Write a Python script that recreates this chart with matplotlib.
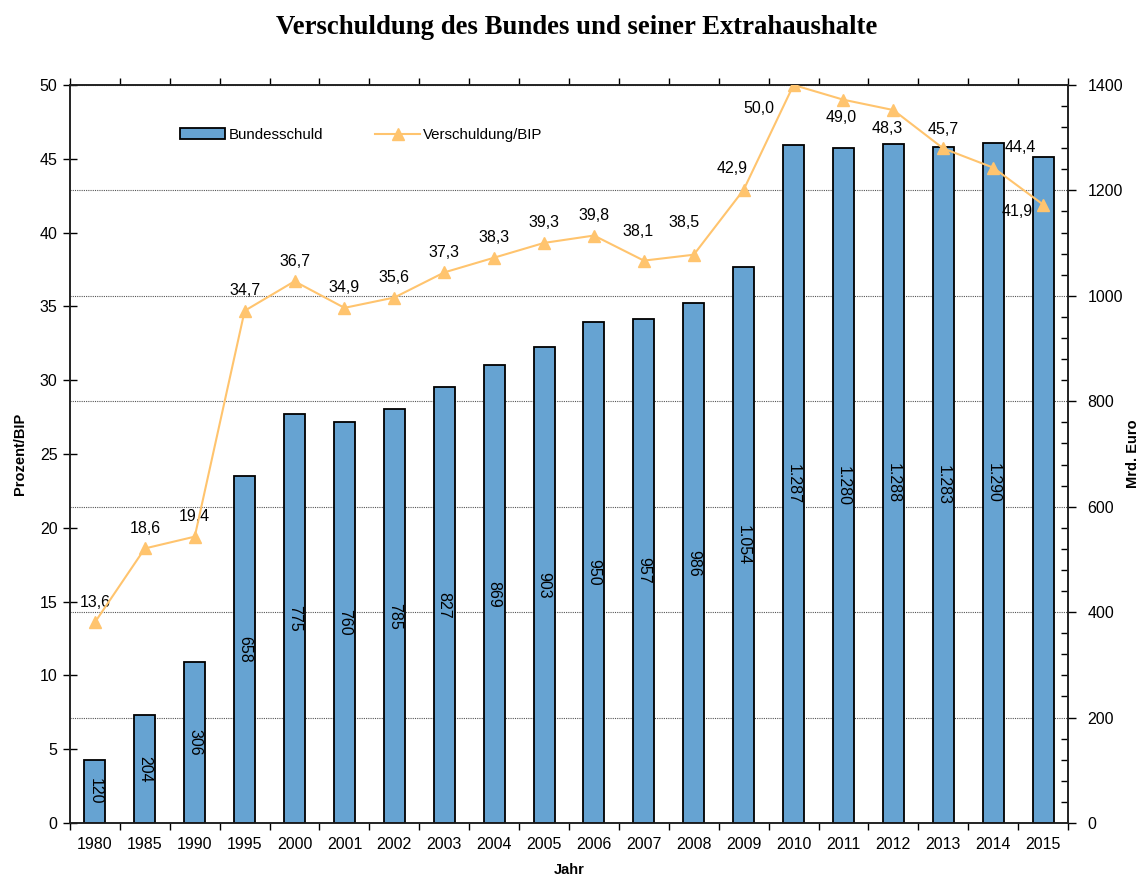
import matplotlib
matplotlib.use("Agg")
import matplotlib.pyplot as plt
import numpy as np
from matplotlib.ticker import MultipleLocator, FixedLocator

plt.rcParams['font.family'] = ['Liberation Sans', 'DejaVu Sans']

# data
jahre = ['1980', '1985', '1990', '1995', '2000', '2001', '2002', '2003', '2004', '2005',
         '2006', '2007', '2008', '2009', '2010', '2011', '2012', '2013', '2014', '2015']
bundesschuld = [120, 204, 306, 658, 775, 760, 785, 827, 869, 903,
                950, 957, 986, 1054, 1287, 1280, 1288, 1283, 1290, 1263]
schuld_bip = [13.6, 18.6, 19.4, 34.7, 36.7, 34.9, 35.6, 37.3, 38.3, 39.3,
              39.8, 38.1, 38.5, 42.9, 50.0, 49.0, 48.3, 45.7, 44.4, 41.9]

# label offsets for the percent values (points)
offs = [(0, 14.4)] * 11 + [(-4.3, 20.9), (-7.2, 23), (-8.6, 15.1), (-25.2, -16.6),
                           (-1.4, -13), (-4.3, -13), (0, 13.7), (19.4, 14.4), (-18.7, -5)]

bar_col = '#66A3D2'
line_col = '#FFC46E'

fig = plt.figure(figsize=(11.38, 8.76), dpi=100)
ax = fig.add_axes([0.0615, 0.0605, 0.877, 0.8425])
ax2 = ax.twinx()
x = np.arange(len(jahre))

# bars (Mrd. Euro, right axis)
ax.set_axisbelow(True)
bars = ax.bar(x, bundesschuld, width=0.42, color=bar_col, edgecolor='black', linewidth=1.3, zorder=3)
labs = [f"{v:,}".replace(',', '.') for v in bundesschuld]
labs[-1] = ''
ax.bar_label(bars, labels=labs, label_type='center', rotation=-90, fontsize=11.5)
ax.set_ylim(0, 1400)
ax.set_xlim(-0.5, len(jahre) - 0.5)
ax.yaxis.tick_right()
ax.yaxis.set_label_position('right')
ax.yaxis.set_major_locator(MultipleLocator(200))
ax.yaxis.set_minor_locator(MultipleLocator(40))
ax.tick_params(axis='y', which='major', direction='out', length=6, labelsize=11.5, width=1, pad=8)
ax.tick_params(axis='y', which='minor', direction='in', length=5, width=1)
ax.set_ylabel('Mrd. Euro', fontsize=10.5, fontweight='bold')
ax.yaxis.set_label_coords(1.058, 0.5)
ax.yaxis.grid(True, which='major', linestyle=(0, (1, 1)), color='#555555', linewidth=0.8, zorder=0)

ax.set_xticks(x)
ax.set_xticklabels(jahre)
ax.xaxis.set_minor_locator(FixedLocator(np.arange(-0.5, len(jahre), 1)))
ax.tick_params(axis='x', which='major', length=0, labelsize=11.5, pad=10)
ax.tick_params(axis='x', which='minor', direction='out', length=5, width=1, top=True)
ax.set_xlabel('Jahr', fontsize=10.5, fontweight='bold', labelpad=8)

# line (Prozent/BIP, left axis)
ax2.yaxis.tick_left()
ax2.yaxis.set_label_position('left')
ln, = ax2.plot(x, schuld_bip, color=line_col, marker='^', markersize=8, linewidth=1.5, zorder=5)
for i, v in enumerate(schuld_bip):
    ax2.annotate(f"{v:.1f}".replace('.', ','), (x[i], v), xytext=offs[i], textcoords='offset points',
                 ha='center', va='center', fontsize=11.5)
ax2.set_ylim(0, 50)
ax2.yaxis.set_major_locator(MultipleLocator(5))
ax2.tick_params(axis='y', which='major', direction='inout', length=10, labelsize=11.5, width=1, pad=4)
ax2.set_ylabel('Prozent/BIP', fontsize=10.5, fontweight='bold', labelpad=9)

for a in (ax, ax2):
    for s in a.spines.values():
        s.set_linewidth(1.2)
        s.set_color('#222222')

leg = ax2.legend([bars, ln], ['Bundesschuld', 'Verschuldung/BIP'], loc='upper left',
                 bbox_to_anchor=(0.097, 0.96), ncol=2, frameon=False, fontsize=10.8,
                 handlelength=3, handletextpad=0.2, columnspacing=3.5)

fig.suptitle('Verschuldung des Bundes und seiner Extrahaushalte', x=0.507, y=0.983,
             fontsize=19.3, fontweight='bold', family='Liberation Serif')

fig.savefig('out.png', dpi=100)
